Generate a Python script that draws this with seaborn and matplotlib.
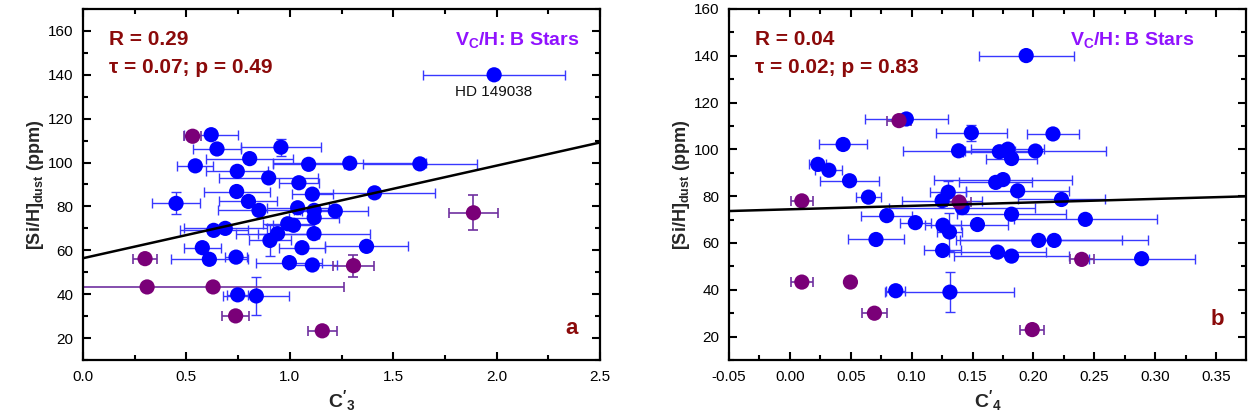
import numpy as np
import pandas as pd
import matplotlib
matplotlib.use("Agg")
import matplotlib.pyplot as plt
import seaborn as sns
from matplotlib.ticker import MultipleLocator

# ---------------- data: panel a (C'_3) ----------------
a_blue_x = [0.62, 0.648, 0.957, 0.806, 0.543, 1.091, 1.29, 1.629, 0.746, 0.898,
            1.044, 0.743, 1.109, 1.41, 0.45, 0.80, 0.851, 1.038, 1.118, 1.22,
            1.118, 0.99, 1.018, 0.632, 0.688, 0.941, 0.904, 1.117, 0.577, 1.059,
            1.371, 0.611, 0.74, 0.998, 1.109, 0.748, 0.838, 1.988]
a_blue_y = [112.7, 106.2, 107.0, 101.8, 98.5, 99.2, 99.7, 99.4, 96.0, 93.0,
            90.8, 86.8, 85.6, 86.2, 81.4, 82.3, 78.2, 79.4, 78.2, 77.9,
            74.9, 72.1, 71.4, 69.1, 70.0, 67.6, 64.5, 67.6, 61.2, 61.2,
            61.8, 55.9, 56.9, 54.4, 53.3, 39.7, 39.2, 140.0]
a_blue_xerr = [0.13, 0.117, 0.195, 0.21, 0.088, 0.17, 0.37, 0.274, 0.15, 0.24,
               0.095, 0.16, 0.10, 0.29, 0.115, 0.14, 0.20, 0.15, 0.10, 0.16,
               0.12, 0.12, 0.10, 0.165, 0.20, 0.20, 0.10, 0.27, 0.088, 0.11,
               0.20, 0.187, 0.053, 0.16, 0.12, 0.05, 0.16, 0.342]
a_blue_yerr = [0, 0, 3.8, 0, 0, 0, 0, 0, 0, 0,
               0, 0, 0, 0, 5.0, 0, 0, 0, 0, 0,
               0, 0, 0, 0, 0, 0, 7.0, 0, 0, 0,
               0, 0, 0, 0, 0, 0, 8.7, 0]
a_purple_x = [0.53, 1.308, 0.30, 0.31, 0.629, 0.738, 1.157, 1.888]
a_purple_y = [112.0, 53.0, 56.2, 43.3, 43.3, 30.1, 23.3, 77.1]
a_purple_xerr = [0.04, 0.10, 0.056, 0.95, 0.0, 0.067, 0.07, 0.12]
a_purple_yerr = [0, 5.0, 0, 0, 0, 0, 0, 8.0]
a_fit = (56.4, 21.1)  # intercept, slope

# ---------------- data: panel b (C'_4) ----------------
b_blue_x = [0.0956, 0.149, 0.216, 0.0437, 0.1385, 0.172, 0.179, 0.182, 0.2016, 0.023,
            0.032, 0.049, 0.169, 0.175, 0.187, 0.130, 0.0645, 0.125, 0.1415, 0.223,
            0.0795, 0.103, 0.1257, 0.131, 0.154, 0.182, 0.2426, 0.0707, 0.2043, 0.217,
            0.1254, 0.1705, 0.182, 0.2888, 0.0869, 0.1314, 0.194]
b_blue_y = [113.0, 107.1, 106.6, 102.1, 99.4, 99.0, 100.1, 96.1, 99.3, 93.6,
            91.1, 86.6, 85.9, 87.1, 82.3, 81.7, 79.6, 78.1, 75.1, 78.6,
            71.7, 68.7, 67.6, 64.7, 67.9, 72.3, 70.1, 61.5, 61.1, 61.1,
            56.8, 56.1, 54.4, 53.3, 39.6, 39.0, 140.1]
b_blue_xerr = [0.034, 0.029, 0.021, 0.02, 0.046, 0.03, 0.03, 0.021, 0.058, 0.007,
               0.011, 0.024, 0.03, 0.057, 0.042, 0.015, 0.01, 0.033, 0.06, 0.036,
               0.021, 0.013, 0.015, 0.01, 0.025, 0.045, 0.059, 0.023, 0.068, 0.077,
               0.015, 0.04, 0.047, 0.0435, 0.008, 0.053, 0.039]
b_blue_yerr = [0, 3.5, 0, 0, 0, 0, 0, 0, 0, 0,
               0, 0, 0, 0, 0, 5.0, 0, 0, 0, 0,
               0, 0, 0, 8.0, 0, 0, 0, 0, 0, 0,
               0, 0, 0, 0, 0, 8.6, 0]
b_purple_x = [0.0896, 0.0098, 0.139, 0.2396, 0.0098, 0.0497, 0.0694, 0.199]
b_purple_y = [112.3, 78.0, 77.5, 53.0, 43.3, 43.3, 30.0, 23.0]
b_purple_xerr = [0.01, 0.009, 0.01, 0.01, 0.009, 0.0, 0.01, 0.01]
b_purple_yerr = [0, 0, 0, 0, 0, 0, 0, 0]
b_fit = (74.4, 14.8)

# ---------------- style ----------------
sns.set_style("ticks")
plt.rcParams['font.family'] = ['Liberation Sans', 'DejaVu Sans']
plt.rcParams['mathtext.fontset'] = 'custom'
plt.rcParams['mathtext.rm'] = 'Liberation Sans'
plt.rcParams['mathtext.bf'] = 'Liberation Sans:bold'
plt.rcParams['mathtext.it'] = 'Liberation Sans:italic'

BLUE = '#0000FF'
BLUE_ERR = '#3838FF'
PURPLE = '#7A0078'
PURPLE_ERR = '#7030A0'
DARKRED = '#8B0A0A'
VIOLET = '#9012FE'

fig = plt.figure(figsize=(12.54, 4.19), dpi=100)
axA = fig.add_axes([83/1254, 1-360/419, 517/1254, 351/419])
axB = fig.add_axes([729/1254, 1-360/419, 517/1254, 351/419])


def draw(ax, bx, by, bxe, bye, px, py, pxe, pye, fit, xlim, ylim, xmaj, r_txt, tau_txt,
         vc_x, letter, letter_y, xlabel):
    ax.errorbar(bx, by, xerr=bxe, yerr=[v if v > 0 else np.nan for v in bye], fmt='none',
                ecolor=BLUE_ERR, elinewidth=1.0, capsize=3.5, capthick=1.0, zorder=2)
    ax.errorbar(px, py, xerr=[v if v > 0 else np.nan for v in pxe],
                yerr=[v if v > 0 else np.nan for v in pye], fmt='none',
                ecolor=PURPLE_ERR, elinewidth=1.2, capsize=3.5, capthick=1.2, zorder=2)
    dfb = pd.DataFrame({'x': bx, 'y': by})
    dfp = pd.DataFrame({'x': px, 'y': py})
    sns.scatterplot(data=dfb, x='x', y='y', ax=ax, color=BLUE, s=120, edgecolor='none',
                    linewidth=0, zorder=3)
    sns.scatterplot(data=dfp, x='x', y='y', ax=ax, color=PURPLE, s=120, edgecolor='none',
                    linewidth=0, zorder=4)
    xx = np.array(xlim)
    sns.lineplot(x=xx, y=fit[0] + fit[1] * xx, ax=ax, color='black', linewidth=1.8, zorder=5)
    ax.set_xlim(*xlim)
    ax.set_ylim(*ylim)
    ax.xaxis.set_major_locator(MultipleLocator(xmaj))
    ax.xaxis.set_minor_locator(MultipleLocator(xmaj / 2))
    ax.yaxis.set_major_locator(MultipleLocator(20))
    ax.yaxis.set_minor_locator(MultipleLocator(10))
    ax.tick_params(which='both', direction='in', top=True, right=True, width=1.5,
                   labelsize=11, colors='black')
    ax.tick_params(which='major', length=6, pad=7)
    ax.tick_params(which='minor', length=3.5)
    for s in ax.spines.values():
        s.set_linewidth(1.6)
        s.set_color('black')
    ax.set_ylabel(r'[Si/H]$_{\mathbf{dust}}$ (ppm)', fontsize=13, fontweight='bold', labelpad=1)
    ax.set_xlabel(xlabel, fontsize=14, fontweight='bold', labelpad=3)
    ax.text(0.05, 0.94, r_txt, transform=ax.transAxes, color=DARKRED, fontsize=15,
            fontweight='bold', va='top', ha='left')
    ax.text(0.05, 0.86, tau_txt, transform=ax.transAxes, color=DARKRED, fontsize=15,
            fontweight='bold', va='top', ha='left')
    ax.text(vc_x, 0.94, r'V$_{\mathbf{C}}$/H: B Stars', transform=ax.transAxes, color=VIOLET,
            fontsize=14, fontweight='bold', va='top', ha='right')
    ax.text(0.945, letter_y, letter, transform=ax.transAxes, color=DARKRED, fontsize=16,
            fontweight='bold', va='baseline', ha='center')


draw(axA, a_blue_x, a_blue_y, a_blue_xerr, a_blue_yerr,
     a_purple_x, a_purple_y, a_purple_xerr, a_purple_yerr, a_fit,
     (0.0, 2.5), (10, 170), 0.5, 'R = 0.29', '\u03c4 = 0.07; p = 0.49', 0.96, 'a', 0.073,
     r"$\mathbf{C'_3}$")
axA.xaxis.set_major_formatter(matplotlib.ticker.FormatStrFormatter('%.1f'))
axA.text(1.988, 135.5, 'HD 149038', ha='center', va='top', fontsize=11, color='#111111')

draw(axB, b_blue_x, b_blue_y, b_blue_xerr, b_blue_yerr,
     b_purple_x, b_purple_y, b_purple_xerr, b_purple_yerr, b_fit,
     (-0.05, 0.3745), (10, 160), 0.05, 'R = 0.04', '\u03c4 = 0.02; p = 0.83', 0.90, 'b', 0.10,
     r"$\mathbf{C'_4}$")
axB.xaxis.set_major_formatter(matplotlib.ticker.FormatStrFormatter('%.2f'))

fig.savefig('out.png', dpi=100)
